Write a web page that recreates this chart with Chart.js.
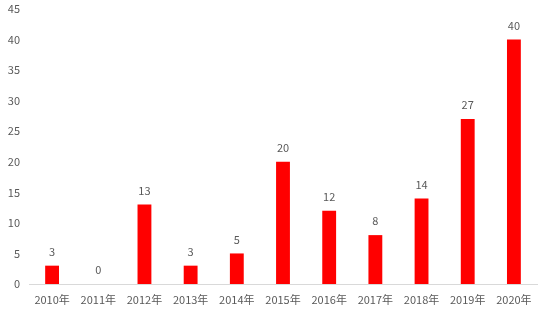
<!DOCTYPE html>
<html>
<head>
<meta charset="utf-8">
<script src="https://cdn.jsdelivr.net/npm/chart.js@4/dist/chart.umd.min.js"></script>
<style>
  html, body { margin: 0; padding: 0; background: #fff; }
  #wrap { width: 551px; height: 310px; }
</style>
</head>
<body>
<div id="wrap"><canvas id="chart"></canvas></div>
<script>
// 연도 라벨과 값
const years = ['2010年', '2011年', '2012年', '2013年', '2014年', '2015年', '2016年', '2017年', '2018年', '2019年', '2020年'];
const counts = [3, 0, 13, 3, 5, 20, 12, 8, 14, 27, 40];
const yTicks = [0, 5, 10, 15, 20, 25, 30, 35, 40, 45];

const FONT = "'Noto Sans CJK SC', 'DejaVu Sans', sans-serif";

// 막대 위 값 라벨
const valueLabels = {
    id: 'valueLabels',
    afterDatasetsDraw(chart) {
        const ctx = chart.ctx;
        const meta = chart.getDatasetMeta(0);
        ctx.save();
        ctx.font = '11px ' + FONT;
        ctx.fillStyle = '#595959';
        ctx.textAlign = 'center';
        ctx.textBaseline = 'middle';
        meta.data.forEach((bar, i) => {
            ctx.fillText(String(counts[i]), bar.x, bar.y - 14);
        });
        ctx.restore();
    }
};

new Chart(document.getElementById('chart').getContext('2d'), {
    type: 'bar',
    data: {
        labels: years,
        datasets: [{
            data: counts,
            backgroundColor: '#ff0000',
            barPercentage: 0.3,
            categoryPercentage: 1.0
        }]
    },
    options: {
        responsive: true,
        maintainAspectRatio: false,
        animation: false,
        layout: { padding: { top: 9, right: 14, left: 0, bottom: 0 } },
        plugins: {
            legend: { display: false },
            tooltip: { enabled: false }
        },
        scales: {
            x: {
                grid: { display: false, drawTicks: false },
                border: { display: true, color: '#d9d9d9', width: 1 },
                ticks: {
                    color: '#595959',
                    font: { family: FONT, size: 11 },
                    padding: 9,
                    maxRotation: 0,
                    autoSkip: false
                },
                afterFit(scale) { scale.height = 26; }
            },
            y: {
                min: 0,
                max: 45,
                grid: { display: false, drawTicks: false },
                border: { display: false },
                afterBuildTicks(scale) {
                    scale.ticks = yTicks.map(v => ({ value: v }));
                },
                ticks: {
                    color: '#595959',
                    font: { family: FONT, size: 11 },
                    padding: 9
                },
                afterFit(scale) {
                    scale.width = 29;
                    scale.paddingTop = 0;
                    scale.paddingBottom = 0;
                }
            }
        }
    },
    plugins: [valueLabels]
});
</script>
</body>
</html>
